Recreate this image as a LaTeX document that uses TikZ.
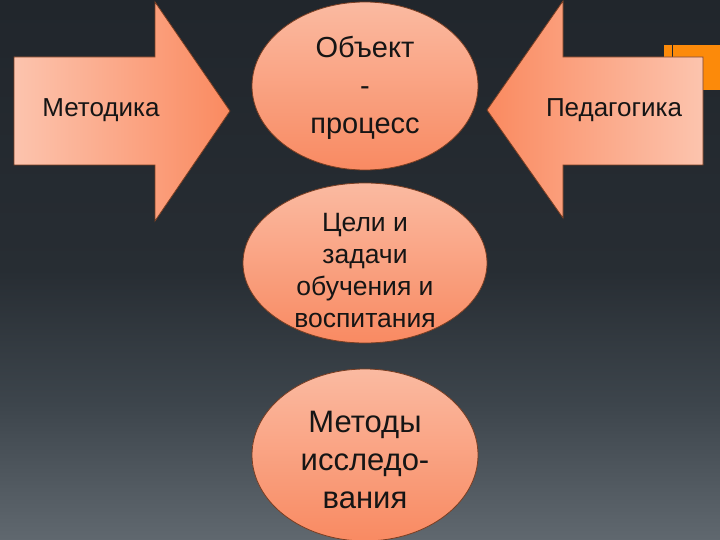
\documentclass[tikz,border=0pt]{standalone}
\usepackage{fontspec}
\setmainfont{Liberation Sans}
\usetikzlibrary{shapes.geometric}
\definecolor{bgtop}{HTML}{21262C}
\definecolor{bgmid}{HTML}{272D33}
\definecolor{bgmid2}{HTML}{3D454C}
\definecolor{bgbot}{HTML}{60686F}
\definecolor{peachL}{HTML}{FCC4AE}
\definecolor{peachD}{HTML}{FA8A60}
\definecolor{ellTop}{HTML}{FABAA1}
\definecolor{ellBot}{HTML}{F98A62}
\definecolor{edge}{HTML}{7A3E22}
\definecolor{sqOrange}{HTML}{FC8A0A}
\definecolor{txt}{HTML}{151515}
\pgfdeclareverticalshading{bgshade}{100bp}{color(0bp)=(bgbot); color(25bp)=(bgbot); color(37.5bp)=(bgmid2); color(50bp)=(bgmid); color(75bp)=(bgtop); color(100bp)=(bgtop)}
\tikzset{
  arrowshape/.style={draw=edge, line width=0.8pt, line join=miter},
  bubble/.style={ellipse, draw=edge, line width=0.8pt, top color=ellTop, bottom color=ellBot, inner sep=0pt},
  lbl/.style={text=txt, font=\fontsize{26}{30}\selectfont, inner sep=0pt},
  etxt/.style={text=txt, align=center, inner sep=0pt}
}
\begin{document}
\begin{tikzpicture}[x=1pt,y=-1pt]
\useasboundingbox (0,0) rectangle (720,540);
\fill[shading=bgshade] (0,0) rectangle (720,540);
% decorative square
\fill[sqOrange] (664,45) rectangle (720,90);
\draw[bgtop, line width=1pt] (672,45) -- (672,57);
% left arrow
\path[arrowshape, left color=peachL, right color=peachD]
  (14,57) -- (155,57) -- (155,2) -- (230,111) -- (155,221) -- (155,165) -- (14,165) -- cycle;
\node[lbl] (metod) at (101,110) {Методика};
% right arrow
\path[arrowshape, left color=peachD, right color=peachL]
  (703,57) -- (563,57) -- (563,1) -- (487,110) -- (563,218) -- (563,165) -- (703,165) -- cycle;
\node[lbl] (ped) at (614,110) {Педагогика};
% ellipses
\node[bubble, minimum width=226pt, minimum height=168pt] (e1) at (365,86) {};
\node[etxt, font=\fontsize{29}{38}\selectfont] (t1) at (365,88) {Объект\\-\\процесс};
\node[bubble, minimum width=244pt, minimum height=160pt] (e2) at (365,263) {};
\node[etxt, font=\fontsize{26.5}{32}\selectfont] (t2) at (365,271) {Цели и\\задачи\\обучения и\\воспитания};
\node[bubble, minimum width=226pt, minimum height=172pt] (e3) at (365,455) {};
\node[etxt, font=\fontsize{31}{38}\selectfont] (t3) at (365,460) {Методы\\исследо-\\вания};
\end{tikzpicture}
\end{document}
